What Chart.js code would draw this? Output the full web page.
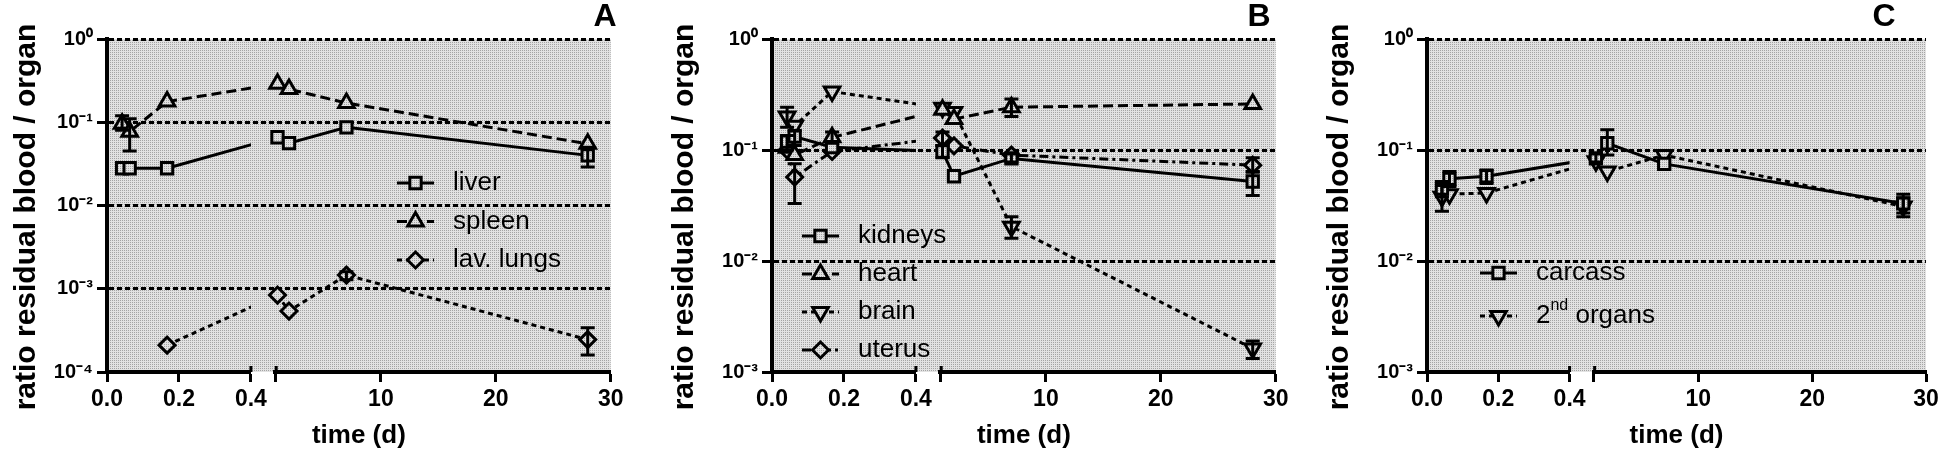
<!DOCTYPE html>
<html><head><meta charset="utf-8">
<script src="https://cdn.jsdelivr.net/npm/chart.js@4.4.1/dist/chart.umd.min.js"></script>
<style>
html,body{margin:0;padding:0;background:#fff;width:1946px;height:453px;overflow:hidden}
.p{position:absolute;top:0;height:453px}
canvas{display:block}
</style></head><body>
<div class="p" style="left:0px"><canvas id="cA" width="640" height="453"></canvas></div>
<div class="p" style="left:665px"><canvas id="cB" width="640" height="453"></canvas></div>
<div class="p" style="left:1320px"><canvas id="cC" width="626" height="453"></canvas></div>
<script>
// ---------- data ----------
const timesEarly = [0.042, 0.063, 0.167];      // days (1 h, 1.5 h, 4 h)
const timesLate  = [1, 2, 7, 28];              // days
const xTicksEarly = [0, 0.2, 0.4];
const xTicksLate  = [10, 20, 30];
const yTicksA  = [1e-4, 1e-3, 1e-2, 1e-1, 1];
const yTicksBC = [1e-3, 1e-2, 1e-1, 1];

// Panel A
const liver      = [0.028, 0.028, 0.028, 0.066, 0.056, 0.087, 0.040];
const liverLo    = [null, null, null, null, null, null, 0.029];
const liverHi    = [null, null, null, null, null, null, 0.050];
const spleen     = [0.096, 0.077, 0.177, 0.29, 0.25, 0.17, 0.055];
const spleenLo   = [0.080, 0.045, null, null, null, null, null];
const spleenHi   = [0.120, 0.110, null, null, null, null, null];
const lungs      = [null, null, 0.00021, 0.00084, 0.00054, 0.00146, 0.000245];
const lungsLo    = [null, null, null, null, null, 0.00128, 0.00016];
const lungsHi    = [null, null, null, null, null, 0.00160, 0.00034];

// Panel B
const kidneys    = [0.119, 0.132, 0.106, 0.097, 0.058, 0.084, 0.052];
const kidneysLo  = [0.100, 0.110, null, 0.085, null, 0.078, 0.039];
const kidneysHi  = [0.135, 0.150, null, 0.110, null, 0.092, 0.064];
const heart      = [0.105, 0.090, 0.130, 0.23, 0.19, 0.243, 0.26];
const heartLo    = [null, null, 0.115, null, null, 0.200, null];
const heartHi    = [null, null, 0.145, null, null, 0.288, null];
const brain      = [0.200, 0.165, 0.336, 0.24, 0.22, 0.0204, 0.00163];
const brainLo    = [0.160, null, null, null, null, 0.016, 0.00132];
const brainHi    = [0.243, null, null, null, null, 0.025, 0.0019];
const uterus     = [0.100, 0.057, 0.097, 0.128, 0.109, 0.090, 0.073];
const uterusLo   = [null, 0.033, null, 0.110, null, null, 0.063];
const uterusHi   = [null, 0.075, null, 0.145, null, null, 0.085];

// Panel C
const carcass    = [0.045, 0.055, 0.058, 0.084, 0.115, 0.075, 0.033];
const carcassLo  = [0.038, 0.047, 0.050, 0.078, 0.090, null, 0.027];
const carcassHi  = [0.052, 0.064, 0.066, 0.092, 0.152, null, 0.040];
const organs2    = [0.038, 0.040, 0.041, 0.079, 0.064, 0.090, 0.031];
const organs2Lo  = [0.028, null, null, null, null, null, 0.025];
const organs2Hi  = [0.048, null, null, null, null, null, 0.037];

// ---------- helpers ----------
const FONT = "'Liberation Sans', Arial, sans-serif";
const SUP = {'0':'\u2070','1':'\u00B9','2':'\u00B2','3':'\u00B3','4':'\u2074','-':'\u207B'};
function decadeLabel(v){
  const e = Math.round(Math.log10(v));
  return '10' + String(e).split('').map(c => SUP[c]).join('');
}
let PATTERN = null;
function bgPattern(ctx){
  if (PATTERN) return PATTERN;
  const c = document.createElement('canvas'); c.width = 2; c.height = 2;
  const g = c.getContext('2d');
  g.fillStyle = '#e2e2e2'; g.fillRect(0,0,2,2);
  g.fillStyle = '#a4a4a4'; g.fillRect(0,0,1,1);
  PATTERN = ctx.createPattern(c, 'repeat');
  return PATTERN;
}
function pts(times, vals, lo, hi, offset){
  const out = [];
  times.forEach((t, i) => {
    const v = vals[i + offset];
    if (v == null) return;
    out.push({x: t, y: v, lo: lo[i + offset], hi: hi[i + offset]});
  });
  return out;
}
function seriesDatasets(label, vals, lo, hi, style, ctx){
  const base = Object.assign({
    label, borderColor: '#000', borderWidth: 3, pointBorderColor: '#000',
    pointBorderWidth: 3, pointBackgroundColor: bgPattern(ctx), tension: 0,
    fill: false, clip: false, yAxisID: 'y'
  }, style);
  return [
    Object.assign({}, base, {xAxisID: 'xl', data: pts(timesEarly, vals, lo, hi, 0)}),
    Object.assign({}, base, {xAxisID: 'xr', data: pts(timesLate, vals, lo, hi, 3)})
  ];
}

const deco = {
  id: 'deco',
  beforeDraw(chart){
    const {ctx, chartArea: a} = chart;
    ctx.save(); ctx.fillStyle = bgPattern(ctx);
    ctx.fillRect(a.left, a.top, a.right - a.left, a.bottom - a.top);
    ctx.restore();
  },
  beforeDatasetsDraw(chart){
    const {ctx, chartArea: a} = chart;
    const ds = chart.data.datasets, xl = chart.scales.xl, xr = chart.scales.xr;
    // break marks on the x axis
    ctx.save(); ctx.strokeStyle = '#000'; ctx.lineWidth = 3;
    ctx.beginPath();
    ctx.moveTo(xl.right, a.bottom - 6); ctx.lineTo(xl.right, a.bottom);
    ctx.moveTo(xr.left + 1, a.bottom - 6); ctx.lineTo(xr.left + 1, a.bottom);
    ctx.stroke(); ctx.restore();
    for (let i = 0; i < ds.length; i += 2){
      const mE = chart.getDatasetMeta(i), mL = chart.getDatasetMeta(i + 1);
      if (!mE.data.length || !mL.data.length) continue;
      const p1 = mE.data[mE.data.length - 1], p2 = mL.data[0];
      const d = ds[i];
      [[a.left, xl.right], [xr.left, a.right]].forEach(([x0, x1]) => {
        ctx.save();
        ctx.beginPath(); ctx.rect(x0, a.top - 30, x1 - x0, a.bottom - a.top + 60); ctx.clip();
        ctx.setLineDash(d.borderDash || []); ctx.lineWidth = d.borderWidth; ctx.strokeStyle = d.borderColor;
        ctx.beginPath(); ctx.moveTo(p1.x, p1.y); ctx.lineTo(p2.x, p2.y); ctx.stroke();
        ctx.restore();
      });
    }
  },
  afterDatasetsDraw(chart){
    const {ctx} = chart; const y = chart.scales.y;
    chart.data.datasets.forEach((d, i) => {
      const meta = chart.getDatasetMeta(i);
      meta.data.forEach((pt, j) => {
        const r = d.data[j];
        if (r.lo == null && r.hi == null) return;
        const yl = r.lo != null ? y.getPixelForValue(r.lo) : pt.y;
        const yh = r.hi != null ? y.getPixelForValue(r.hi) : pt.y;
        ctx.save(); ctx.strokeStyle = '#000'; ctx.lineWidth = 3; ctx.setLineDash([]);
        ctx.beginPath(); ctx.moveTo(pt.x, yl); ctx.lineTo(pt.x, yh);
        if (r.lo != null){ ctx.moveTo(pt.x - 7, yl); ctx.lineTo(pt.x + 7, yl); }
        if (r.hi != null){ ctx.moveTo(pt.x - 7, yh); ctx.lineTo(pt.x + 7, yh); }
        ctx.stroke(); ctx.restore();
      });
    });
  },
  afterDraw(chart, args, o){
    const {ctx} = chart; const ds = chart.data.datasets;
    ctx.save();
    // y title
    ctx.translate(o.yTitleX, o.yTitleY); ctx.rotate(-Math.PI / 2);
    ctx.font = 'bold 30px ' + FONT; ctx.fillStyle = '#000';
    ctx.textAlign = 'center'; ctx.textBaseline = 'middle';
    ctx.fillText('ratio residual blood / organ', 0, 0);
    ctx.restore();
    // panel letter
    ctx.save(); ctx.font = 'bold 32px ' + FONT; ctx.fillStyle = '#000';
    ctx.textAlign = 'center'; ctx.textBaseline = 'alphabetic';
    ctx.fillText(o.letter, o.letterX, o.letterY); ctx.restore();
    // legend
    const L = o.legend;
    for (let k = 0; k < ds.length / 2; k++){
      const d = ds[2 * k]; const yy = L.y + k * L.dy;
      ctx.save();
      ctx.strokeStyle = '#000'; ctx.lineWidth = d.borderWidth; ctx.setLineDash(d.borderDash || []);
      ctx.beginPath(); ctx.moveTo(L.x, yy); ctx.lineTo(L.x + 37, yy); ctx.stroke();
      ctx.setLineDash([]); ctx.lineWidth = d.pointBorderWidth; ctx.fillStyle = bgPattern(ctx);
      Chart.helpers.drawPoint(ctx, {pointStyle: d.pointStyle, rotation: d.pointRotation || 0,
        radius: d.pointRadius, borderWidth: d.pointBorderWidth}, L.x + 18.5, yy);
      ctx.fillStyle = '#000'; ctx.textBaseline = 'middle'; ctx.textAlign = 'left';
      let tx = L.x + 56;
      const parts = d.label.split('^');
      parts.forEach((p, pi) => {
        if (pi === 1){
          const m = p.match(/^(\S+)(.*)$/);
          ctx.font = '16px ' + FONT; ctx.fillText(m[1], tx, yy - 10); tx += ctx.measureText(m[1]).width;
          ctx.font = '26px ' + FONT; ctx.fillText(m[2], tx, yy); tx += ctx.measureText(m[2]).width;
        } else {
          ctx.font = '26px ' + FONT; ctx.fillText(p, tx, yy); tx += ctx.measureText(p).width;
        }
      });
      ctx.restore();
    }
  }
};

function makeChart(id, yTicks, datasets, deco_opts, rightPad){
  const yMin = yTicks[0], yMax = yTicks[yTicks.length - 1];
  const tickFont = {family: FONT, size: 23, weight: 'bold'};
  const xCommon = {
    type: 'linear', position: 'bottom', stack: 'x', offset: false,
    grid: {drawOnChartArea: false, drawTicks: true, tickLength: 10, tickWidth: 3, tickColor: '#000'},
    border: {display: true, width: 4, color: '#000'},
    ticks: {autoSkip: false, maxRotation: 0, minRotation: 0, color: '#000', font: tickFont, padding: 4},
    afterFit: s => { s.height = 48; }
  };
  return new Chart(document.getElementById(id), {
    type: 'line',
    data: {datasets},
    plugins: [deco],
    options: {
      responsive: false, animation: false, devicePixelRatio: 1, events: [],
      layout: {padding: {left: 0, right: rightPad, top: 39, bottom: 0}},
      scales: {
        xl: Object.assign({}, xCommon, {min: xTicksEarly[0], max: xTicksEarly[xTicksEarly.length - 1], stackWeight: 144,
          afterBuildTicks: s => { s.ticks = xTicksEarly.map(v => ({value: v})); },
          ticks: Object.assign({}, xCommon.ticks, {callback: v => Number(v).toFixed(1)})}),
        xg: {type: 'linear', position: 'bottom', stack: 'x', stackWeight: 24.3, display: false,
          afterFit: s => { s.height = 48; }},
        xr: Object.assign({}, xCommon, {min: 0.8, max: xTicksLate[xTicksLate.length - 1], stackWeight: 335.7,
          afterBuildTicks: s => { s.ticks = [{value: 0.8}].concat(xTicksLate.map(v => ({value: v}))); },
          ticks: Object.assign({}, xCommon.ticks, {callback: v => (v === 0.8 ? '' : String(v))})}),
        y: {
          type: 'logarithmic', position: 'left', min: yMin, max: yMax,
          afterBuildTicks: s => { s.ticks = yTicks.map(v => ({value: v})); },
          afterFit: s => { s.width = 107; },
          grid: {color: c => (c.tick && c.tick.value === yMin ? 'rgba(0,0,0,0)' : '#000'),
            lineWidth: 3, drawOnChartArea: true, drawTicks: true, tickLength: 10,
            tickWidth: 3, tickColor: '#000', tickBorderDash: []},
          border: {display: true, width: 4, color: '#000', dash: [5, 3]},
          ticks: {color: '#000', font: {family: FONT, size: 20, weight: 'bold'}, padding: 4,
            callback: v => decadeLabel(v)}
        }
      },
      plugins: {
        legend: {display: false}, tooltip: {enabled: false},
        title: {display: true, text: 'time (d)', position: 'bottom', fullSize: false, color: '#000',
          font: {family: FONT, size: 26, weight: 'bold', lineHeight: 1.2}, padding: {top: 0, bottom: 1.8}},
        deco: deco_opts
      }
    }
  });
}

const ctx0 = document.getElementById('cA').getContext('2d');
const SOLID = [], LONG = [10, 5], SHORT = [5, 4], DASHDOT = [9, 4, 3, 4];

makeChart('cA', yTicksA, [
  ...seriesDatasets('liver', liver, liverLo, liverHi, {borderDash: SOLID, pointStyle: 'rect', pointRadius: 8}, ctx0),
  ...seriesDatasets('spleen', spleen, spleenLo, spleenHi, {borderDash: LONG, pointStyle: 'triangle', pointRadius: 9}, ctx0),
  ...seriesDatasets('lav. lungs', lungs, lungsLo, lungsHi, {borderDash: SHORT, pointStyle: 'rectRot', pointRadius: 8}, ctx0)
], {letter: 'A', letterX: 605, letterY: 26, yTitleX: 27, yTitleY: 217, legend: {x: 397, y: 183, dy: 38.5}}, 29.3);

makeChart('cB', yTicksBC, [
  ...seriesDatasets('kidneys', kidneys, kidneysLo, kidneysHi, {borderDash: SOLID, pointStyle: 'rect', pointRadius: 8}, ctx0),
  ...seriesDatasets('heart', heart, heartLo, heartHi, {borderDash: LONG, pointStyle: 'triangle', pointRadius: 9}, ctx0),
  ...seriesDatasets('brain', brain, brainLo, brainHi, {borderDash: SHORT, pointStyle: 'triangle', pointRotation: 180, pointRadius: 9}, ctx0),
  ...seriesDatasets('uterus', uterus, uterusLo, uterusHi, {borderDash: DASHDOT, pointStyle: 'rectRot', pointRadius: 8}, ctx0)
], {letter: 'B', letterX: 594, letterY: 26, yTitleX: 20, yTitleY: 217, legend: {x: 137, y: 236, dy: 38}}, 29.3);

makeChart('cC', yTicksBC, [
  ...seriesDatasets('carcass', carcass, carcassLo, carcassHi, {borderDash: SOLID, pointStyle: 'rect', pointRadius: 8}, ctx0),
  ...seriesDatasets('2^nd organs', organs2, organs2Lo, organs2Hi, {borderDash: SHORT, pointStyle: 'triangle', pointRotation: 180, pointRadius: 9}, ctx0)
], {letter: 'C', letterX: 564, letterY: 26, yTitleX: 20, yTitleY: 217, legend: {x: 160, y: 273, dy: 43}}, 15.3);
</script>
</body></html>
